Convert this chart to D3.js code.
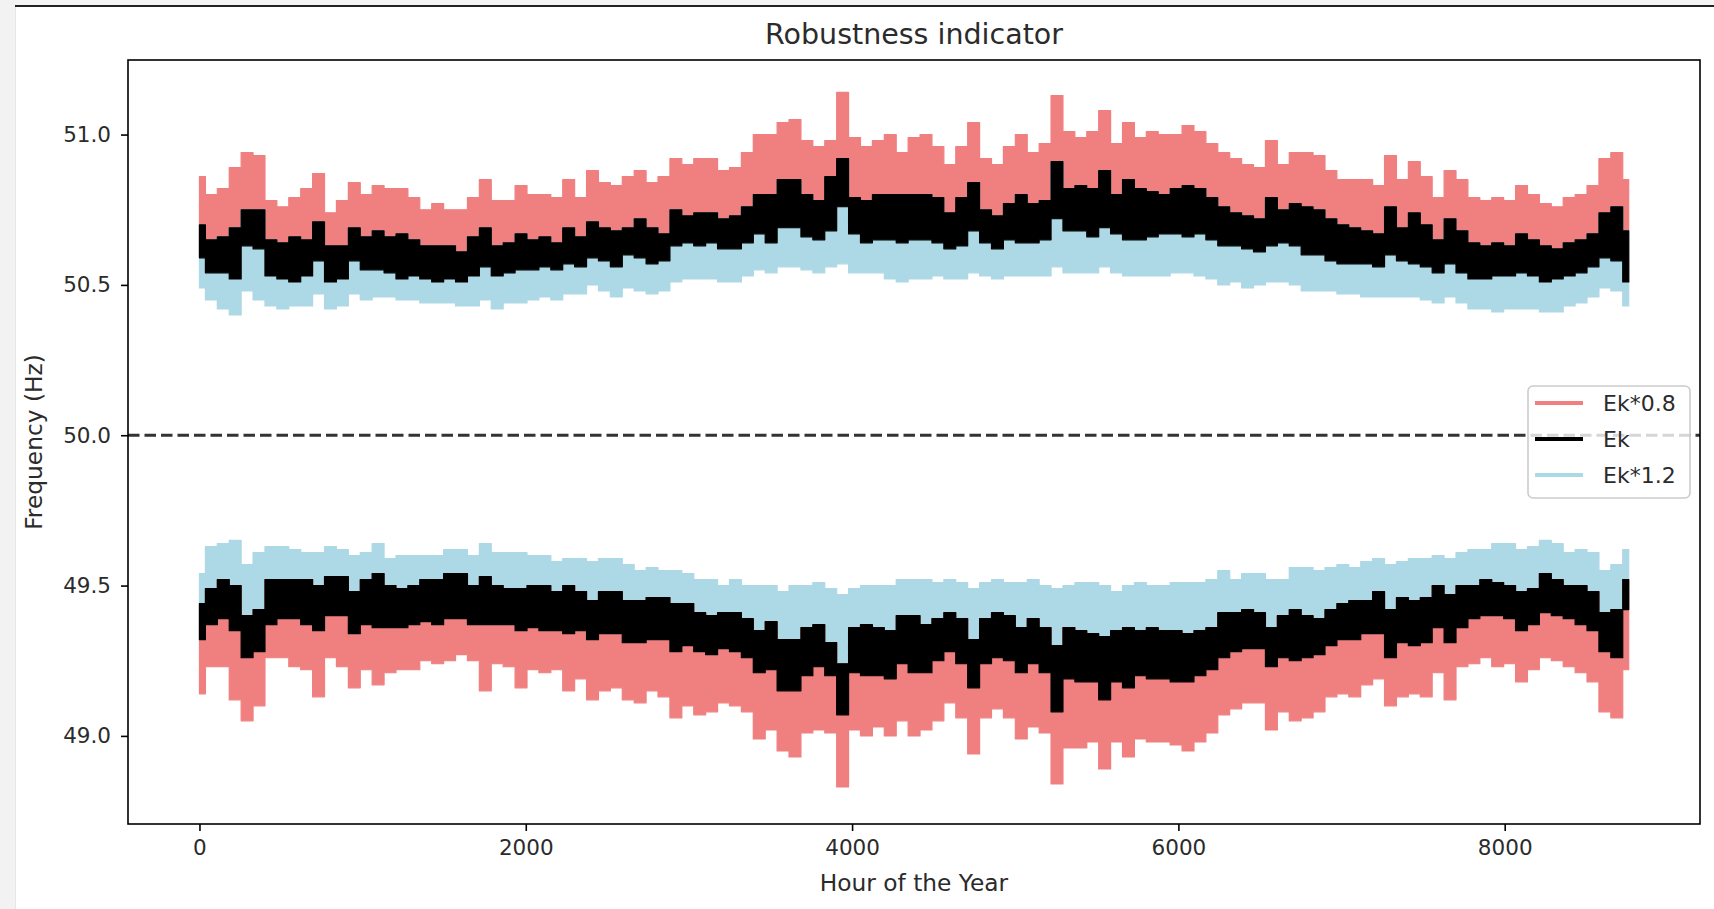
<!DOCTYPE html>
<html>
<head>
<meta charset="utf-8">
<script src="https://cdn.jsdelivr.net/npm/d3@7"></script>
<style>
  body { margin: 0; background: #fff; }
  text { font-family: "DejaVu Sans", sans-serif; fill: #2b2b2b; }
</style>
</head>
<body>
<svg id="chart" width="1714" height="909"></svg>
<script>
// hour of the year, one reading every 73 h (0 .. 8760)
const hours = d3.range(0, 8761, 73);

// upper band (above 50 Hz): visible edges of each trace, in Hz
const redHiUp = [
  50.86, 50.80, 50.82, 50.89, 50.94, 50.93, 50.78, 50.76, 50.79, 50.82,
  50.87, 50.74, 50.78, 50.84, 50.80, 50.83, 50.82, 50.82, 50.79, 50.75,
  50.77, 50.75, 50.75, 50.79, 50.85, 50.78, 50.78, 50.83, 50.80, 50.80,
  50.79, 50.85, 50.79, 50.88, 50.84, 50.83, 50.86, 50.88, 50.84, 50.86,
  50.92, 50.90, 50.92, 50.92, 50.88, 50.89, 50.94, 51.00, 51.00, 51.04,
  51.05, 50.98, 50.96, 50.98, 51.14, 50.99, 50.96, 50.98, 51.00, 50.94,
  50.99, 51.00, 50.96, 50.90, 50.96, 51.04, 50.92, 50.90, 50.96, 51.00,
  50.94, 50.97, 51.13, 51.01, 50.99, 51.01, 51.08, 50.97, 51.04, 50.99,
  51.01, 51.00, 51.00, 51.03, 51.01, 50.97, 50.94, 50.92, 50.90, 50.89,
  50.98, 50.90, 50.94, 50.94, 50.93, 50.88, 50.85, 50.85, 50.85, 50.83,
  50.93, 50.85, 50.91, 50.86, 50.79, 50.88, 50.85, 50.79, 50.78, 50.79,
  50.78, 50.83, 50.80, 50.77, 50.76, 50.79, 50.80, 50.83, 50.92, 50.94, 50.85
];
const blackHiUp = [
  50.70, 50.65, 50.66, 50.69, 50.75, 50.75, 50.65, 50.64, 50.66, 50.65,
  50.71, 50.63, 50.63, 50.69, 50.66, 50.68, 50.66, 50.67, 50.65, 50.63,
  50.63, 50.63, 50.61, 50.66, 50.69, 50.63, 50.64, 50.67, 50.65, 50.66,
  50.64, 50.69, 50.66, 50.71, 50.69, 50.68, 50.69, 50.72, 50.69, 50.67,
  50.75, 50.73, 50.74, 50.74, 50.72, 50.73, 50.76, 50.80, 50.80, 50.85,
  50.85, 50.80, 50.78, 50.86, 50.92, 50.79, 50.78, 50.80, 50.80, 50.80,
  50.80, 50.80, 50.79, 50.74, 50.79, 50.84, 50.75, 50.73, 50.77, 50.80,
  50.77, 50.78, 50.91, 50.82, 50.83, 50.82, 50.88, 50.80, 50.85, 50.82,
  50.81, 50.80, 50.82, 50.83, 50.82, 50.79, 50.76, 50.74, 50.73, 50.72,
  50.79, 50.75, 50.77, 50.76, 50.75, 50.72, 50.70, 50.69, 50.68, 50.67,
  50.76, 50.69, 50.74, 50.70, 50.65, 50.72, 50.68, 50.64, 50.63, 50.64,
  50.63, 50.67, 50.65, 50.63, 50.62, 50.64, 50.65, 50.67, 50.74, 50.76, 50.68
];
const blackLoUp = [
  50.59, 50.54, 50.54, 50.52, 50.63, 50.62, 50.53, 50.52, 50.51, 50.53,
  50.58, 50.51, 50.52, 50.58, 50.55, 50.55, 50.54, 50.52, 50.53, 50.52,
  50.51, 50.52, 50.51, 50.53, 50.56, 50.53, 50.54, 50.55, 50.55, 50.56,
  50.55, 50.57, 50.56, 50.59, 50.58, 50.56, 50.60, 50.59, 50.57, 50.58,
  50.63, 50.64, 50.63, 50.64, 50.62, 50.62, 50.64, 50.67, 50.64, 50.69,
  50.69, 50.66, 50.65, 50.68, 50.76, 50.67, 50.64, 50.65, 50.65, 50.64,
  50.65, 50.65, 50.64, 50.62, 50.63, 50.68, 50.64, 50.62, 50.65, 50.64,
  50.64, 50.65, 50.72, 50.68, 50.68, 50.66, 50.69, 50.67, 50.65, 50.65,
  50.66, 50.67, 50.67, 50.66, 50.67, 50.65, 50.63, 50.63, 50.62, 50.61,
  50.63, 50.64, 50.63, 50.60, 50.60, 50.58, 50.57, 50.57, 50.57, 50.56,
  50.60, 50.58, 50.57, 50.56, 50.54, 50.57, 50.54, 50.52, 50.52, 50.53,
  50.53, 50.54, 50.53, 50.51, 50.52, 50.53, 50.54, 50.56, 50.59, 50.58, 50.51
];
const blueLoUp = [
  50.49, 50.45, 50.42, 50.40, 50.48, 50.45, 50.43, 50.42, 50.43, 50.43,
  50.47, 50.42, 50.43, 50.47, 50.45, 50.46, 50.46, 50.45, 50.45, 50.44,
  50.44, 50.44, 50.43, 50.43, 50.45, 50.42, 50.44, 50.44, 50.45, 50.46,
  50.45, 50.47, 50.47, 50.50, 50.48, 50.46, 50.49, 50.48, 50.47, 50.48,
  50.51, 50.52, 50.52, 50.52, 50.51, 50.51, 50.53, 50.55, 50.54, 50.56,
  50.56, 50.55, 50.54, 50.56, 50.57, 50.54, 50.54, 50.54, 50.52, 50.51,
  50.52, 50.52, 50.53, 50.52, 50.52, 50.54, 50.53, 50.52, 50.53, 50.53,
  50.53, 50.53, 50.56, 50.54, 50.54, 50.54, 50.56, 50.54, 50.53, 50.53,
  50.53, 50.53, 50.54, 50.54, 50.53, 50.52, 50.50, 50.51, 50.49, 50.50,
  50.51, 50.51, 50.50, 50.48, 50.48, 50.48, 50.47, 50.47, 50.46, 50.46,
  50.46, 50.46, 50.46, 50.45, 50.44, 50.46, 50.44, 50.42, 50.42, 50.41,
  50.42, 50.42, 50.42, 50.41, 50.41, 50.43, 50.44, 50.46, 50.49, 50.48, 50.43
];

// lower band (below 50 Hz)
const blueHiDn = [
  49.54, 49.63, 49.64, 49.65, 49.57, 49.61, 49.63, 49.63, 49.62, 49.61,
  49.61, 49.63, 49.62, 49.60, 49.61, 49.64, 49.59, 49.60, 49.60, 49.60,
  49.60, 49.62, 49.62, 49.60, 49.64, 49.61, 49.61, 49.61, 49.60, 49.60,
  49.58, 49.59, 49.59, 49.58, 49.59, 49.59, 49.57, 49.55, 49.56, 49.55,
  49.55, 49.54, 49.52, 49.52, 49.50, 49.52, 49.50, 49.50, 49.50, 49.48,
  49.50, 49.50, 49.51, 49.49, 49.47, 49.49, 49.50, 49.50, 49.50, 49.52,
  49.52, 49.52, 49.51, 49.52, 49.51, 49.49, 49.51, 49.52, 49.51, 49.51,
  49.52, 49.50, 49.49, 49.50, 49.51, 49.51, 49.50, 49.48, 49.50, 49.51,
  49.50, 49.50, 49.51, 49.51, 49.51, 49.52, 49.55, 49.52, 49.54, 49.54,
  49.52, 49.52, 49.56, 49.56, 49.55, 49.56, 49.57, 49.56, 49.58, 49.59,
  49.57, 49.58, 49.59, 49.59, 49.60, 49.59, 49.61, 49.62, 49.62, 49.64,
  49.64, 49.62, 49.63, 49.65, 49.64, 49.61, 49.62, 49.61, 49.55, 49.57, 49.62
];
const blackHiDn = [
  49.44, 49.49, 49.52, 49.50, 49.40, 49.42, 49.52, 49.52, 49.52, 49.52,
  49.50, 49.53, 49.53, 49.48, 49.52, 49.54, 49.50, 49.49, 49.50, 49.52,
  49.52, 49.54, 49.54, 49.50, 49.53, 49.50, 49.49, 49.49, 49.50, 49.50,
  49.48, 49.50, 49.48, 49.45, 49.48, 49.48, 49.45, 49.45, 49.46, 49.46,
  49.44, 49.44, 49.41, 49.40, 49.41, 49.41, 49.39, 49.35, 49.38, 49.32,
  49.32, 49.36, 49.37, 49.31, 49.24, 49.36, 49.37, 49.36, 49.35, 49.40,
  49.40, 49.37, 49.39, 49.41, 49.39, 49.32, 49.39, 49.41, 49.40, 49.36,
  49.39, 49.36, 49.30, 49.36, 49.35, 49.34, 49.33, 49.35, 49.36, 49.35,
  49.36, 49.35, 49.35, 49.34, 49.35, 49.36, 49.41, 49.41, 49.42, 49.41,
  49.36, 49.40, 49.42, 49.40, 49.39, 49.42, 49.44, 49.45, 49.45, 49.48,
  49.42, 49.46, 49.45, 49.46, 49.50, 49.47, 49.50, 49.50, 49.52, 49.51,
  49.50, 49.48, 49.49, 49.54, 49.52, 49.50, 49.50, 49.48, 49.41, 49.42, 49.52
];
const blackLoDn = [
  49.32, 49.37, 49.39, 49.35, 49.26, 49.28, 49.37, 49.39, 49.39, 49.37,
  49.35, 49.40, 49.40, 49.34, 49.37, 49.36, 49.36, 49.36, 49.37, 49.38,
  49.37, 49.39, 49.39, 49.37, 49.37, 49.37, 49.37, 49.35, 49.36, 49.35,
  49.35, 49.34, 49.35, 49.32, 49.34, 49.34, 49.31, 49.31, 49.32, 49.32,
  49.28, 49.30, 49.28, 49.27, 49.29, 49.28, 49.26, 49.21, 49.22, 49.15,
  49.15, 49.20, 49.23, 49.20, 49.07, 49.21, 49.20, 49.20, 49.19, 49.24,
  49.21, 49.21, 49.25, 49.28, 49.24, 49.16, 49.24, 49.26, 49.25, 49.21,
  49.24, 49.21, 49.08, 49.19, 49.18, 49.18, 49.12, 49.18, 49.16, 49.20,
  49.19, 49.19, 49.18, 49.18, 49.20, 49.22, 49.26, 49.28, 49.29, 49.29,
  49.23, 49.26, 49.25, 49.26, 49.27, 49.30, 49.32, 49.32, 49.34, 49.34,
  49.26, 49.31, 49.30, 49.31, 49.36, 49.31, 49.36, 49.39, 49.40, 49.40,
  49.39, 49.35, 49.37, 49.41, 49.40, 49.39, 49.37, 49.35, 49.28, 49.26, 49.42
];
const redLoDn = [
  49.14, 49.23, 49.23, 49.12, 49.05, 49.10, 49.26, 49.26, 49.23, 49.22,
  49.13, 49.26, 49.23, 49.16, 49.22, 49.17, 49.21, 49.22, 49.22, 49.25,
  49.24, 49.25, 49.27, 49.25, 49.15, 49.24, 49.23, 49.16, 49.22, 49.21,
  49.22, 49.15, 49.19, 49.12, 49.15, 49.16, 49.12, 49.11, 49.15, 49.13,
  49.06, 49.10, 49.07, 49.08, 49.11, 49.10, 49.08, 48.99, 49.02, 48.95,
  48.93, 49.01, 49.02, 49.01, 48.83, 49.02, 49.00, 49.03, 49.00, 49.05,
  49.00, 49.02, 49.05, 49.11, 49.06, 48.94, 49.06, 49.09, 49.06, 48.99,
  49.03, 49.01, 48.84, 48.96, 48.96, 48.98, 48.89, 48.98, 48.93, 48.99,
  48.98, 48.98, 48.97, 48.95, 48.98, 49.01, 49.07, 49.09, 49.11, 49.11,
  49.02, 49.08, 49.05, 49.06, 49.08, 49.13, 49.14, 49.13, 49.17, 49.19,
  49.10, 49.13, 49.14, 49.13, 49.21, 49.12, 49.23, 49.24, 49.26, 49.23,
  49.24, 49.18, 49.22, 49.26, 49.25, 49.23, 49.21, 49.18, 49.08, 49.06, 49.22
];

const xTicks = [0, 2000, 4000, 6000, 8000];
const yTicks = [49.0, 49.5, 50.0, 50.5, 51.0];
const legendLabels = ["Ek*0.8", "Ek", "Ek*1.2"];

const red = "#f08080", blue = "#add8e6", black = "#000";

const svg = d3.select("#chart");
const plot = { left: 128, right: 1700, top: 60, bottom: 824 };

// screenshot frame
svg.append("rect").attr("x", 0).attr("y", 0).attr("width", 15).attr("height", 909).attr("fill", "#f2f2f2");
svg.append("line").attr("x1", 15.5).attr("x2", 15.5).attr("y1", 0).attr("y2", 909).attr("stroke", "#e6e6e6");
svg.append("rect").attr("x", 15).attr("y", 0).attr("width", 1699).attr("height", 5).attr("fill", "#f4f4f4");
svg.append("line").attr("x1", 15).attr("x2", 1714).attr("y1", 6).attr("y2", 6).attr("stroke", "#222").attr("stroke-width", 2);

const x = d3.scaleLinear().domain([-438, 9197]).range([plot.left, plot.right]);
const y = d3.scaleLinear().domain([48.707, 51.248]).range([plot.bottom, plot.top]);

const rows = hours.map((h, i) => ({
  h,
  redHiUp: redHiUp[i], blackHiUp: blackHiUp[i], blackLoUp: blackLoUp[i], blueLoUp: blueLoUp[i],
  blueHiDn: blueHiDn[i], blackHiDn: blackHiDn[i], blackLoDn: blackLoDn[i], redLoDn: redLoDn[i]
}));

const band = (top, bottom) => d3.area()
  .curve(d3.curveStep)
  .x(d => x(d.h))
  .y0(d => y(d[bottom]))
  .y1(d => y(d[top]));

// drawn in order: coloured traces first, Ek on top
const layers = [
  { top: "redHiUp", bottom: "blackLoUp", color: red },
  { top: "blackHiUp", bottom: "blueLoUp", color: blue },
  { top: "blackHiUp", bottom: "blackLoUp", color: black },
  { top: "blueHiDn", bottom: "blackLoDn", color: blue },
  { top: "blackHiDn", bottom: "redLoDn", color: red },
  { top: "blackHiDn", bottom: "blackLoDn", color: black }
];

svg.append("g").selectAll("path")
  .data(layers)
  .enter().append("path")
  .attr("d", d => band(d.top, d.bottom)(rows))
  .attr("fill", d => d.color)
  .attr("stroke", d => d.color)
  .attr("stroke-width", 1.2)
  .attr("stroke-linejoin", "round");

// nominal frequency
svg.append("line")
  .attr("x1", plot.left).attr("x2", plot.right)
  .attr("y1", y(50)).attr("y2", y(50))
  .attr("stroke", "#333").attr("stroke-width", 3)
  .attr("stroke-dasharray", "11.5,5");

// axes
const xAxis = svg.append("g")
  .attr("transform", `translate(0,${plot.bottom})`)
  .call(d3.axisBottom(x).tickValues(xTicks).tickFormat(d3.format("d")).tickSize(7).tickPadding(9).tickSizeOuter(0));
const yAxis = svg.append("g")
  .attr("transform", `translate(${plot.left},0)`)
  .call(d3.axisLeft(y).tickValues(yTicks).tickFormat(d3.format(".1f")).tickSize(7).tickPadding(10).tickSizeOuter(0));

[xAxis, yAxis].forEach(g => {
  g.select(".domain").remove();
  g.selectAll(".tick line").attr("stroke", "#000").attr("stroke-width", 1.6);
  g.selectAll(".tick text").style("font-family", "DejaVu Sans").style("font-size", "21.5px").attr("fill", "#2b2b2b");
});

svg.append("rect")
  .attr("x", plot.left).attr("y", plot.top)
  .attr("width", plot.right - plot.left).attr("height", plot.bottom - plot.top)
  .attr("fill", "none").attr("stroke", "#000").attr("stroke-width", 1.6);

// labels
svg.append("text").attr("x", (plot.left + plot.right) / 2).attr("y", 44)
  .attr("text-anchor", "middle").style("font-size", "28.5px").text("Robustness indicator");
svg.append("text").attr("x", (plot.left + plot.right) / 2).attr("y", 891)
  .attr("text-anchor", "middle").style("font-size", "23.3px").text("Hour of the Year");
svg.append("text")
  .attr("transform", `translate(42,${(plot.top + plot.bottom) / 2}) rotate(-90)`)
  .attr("text-anchor", "middle").style("font-size", "23.3px").text("Frequency (Hz)");

// legend
const legend = svg.append("g").attr("transform", "translate(1528,386)");
legend.append("rect")
  .attr("width", 162).attr("height", 112).attr("rx", 5)
  .attr("fill", "#fff").attr("fill-opacity", 0.8)
  .attr("stroke", "#cccccc").attr("stroke-width", 1.6);

const legendColors = [red, black, blue];
const item = legend.selectAll(".item")
  .data(legendLabels)
  .enter().append("g")
  .attr("class", "item")
  .attr("transform", (d, i) => `translate(0,${17 + i * 36})`);
item.append("line")
  .attr("x1", 7).attr("x2", 55)
  .attr("stroke", (d, i) => legendColors[i]).attr("stroke-width", 4);
item.append("text")
  .attr("x", 75).attr("dy", "0.36em")
  .style("font-size", "22px")
  .text(d => d);
</script>
</body>
</html>
